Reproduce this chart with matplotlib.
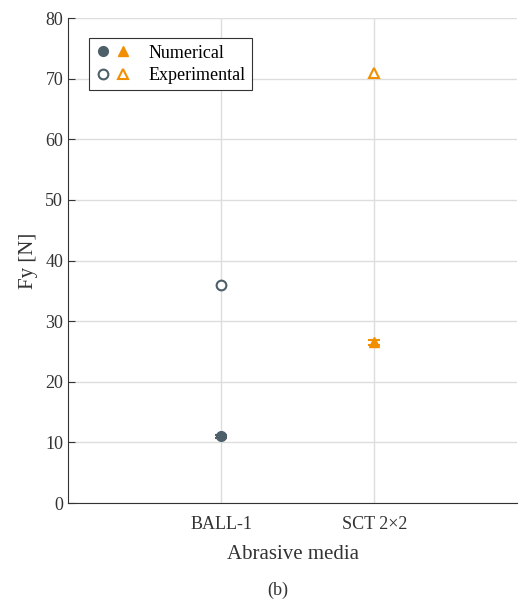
import matplotlib.pyplot as plt
from matplotlib.legend_handler import HandlerTuple

media = ["BALL-1", "SCT 2\u00d72"]
num_ball = 11.0
num_ball_err = 0.3
num_sct = 26.5
num_sct_err = 0.4
exp_ball = 35.9
exp_sct = 70.9

c_ball = "#4d5f69"
c_sct = "#f28f00"

plt.rcParams["font.family"] = ["Liberation Serif", "DejaVu Serif"]

fig = plt.figure(figsize=(5.19, 6.01), dpi=100)
ax = fig.add_axes([0.131, 0.163, 0.866, 0.807])

h1 = ax.errorbar([1], [num_ball], yerr=[num_ball_err], fmt="o", color=c_ball,
                 ms=7, capsize=4, elinewidth=1.2, capthick=1.5, zorder=3)
h2 = ax.errorbar([2], [num_sct], yerr=[num_sct_err], fmt="^", color=c_sct,
                 ms=7, capsize=4, elinewidth=1.2, capthick=1.5, zorder=3)
h3, = ax.plot([1], [exp_ball], "o", mfc="white", mec=c_ball, mew=1.5, ms=7, zorder=3)
h4, = ax.plot([2], [exp_sct], "^", mfc="white", mec=c_sct, mew=1.5, ms=7, zorder=3)

ax.set_xlim(0, 2.935)
ax.set_ylim(0, 80)
ax.set_xticks([1, 2])
ax.set_xticklabels(media)
ax.set_yticks(range(0, 81, 10))
ax.grid(True, color="#dddddd", lw=1)
ax.set_axisbelow(True)
ax.tick_params(direction="in", labelsize=13, colors="#333333", length=5)
ax.tick_params(axis="x", length=0, pad=9)
for s in ["top", "right"]:
    ax.spines[s].set_visible(False)
for s in ["left", "bottom"]:
    ax.spines[s].set_color("#333333")
ax.set_ylabel("Fy [N]", fontsize=15, color="#333333", labelpad=5)
ax.set_xlabel("Abrasive media", fontsize=15, color="#333333", labelpad=9)

h1m, = ax.plot([], [], "o", color=c_ball, ms=7)
h2m, = ax.plot([], [], "^", color=c_sct, ms=7)
leg = ax.legend([(h1m, h2m), (h3, h4)], ["Numerical", "Experimental"],
                handler_map={tuple: HandlerTuple(ndivide=None, pad=0.3)},
                loc="upper left", bbox_to_anchor=(0.026, 0.977), fontsize=13,
                fancybox=False, edgecolor="#333333", framealpha=1,
                handlelength=2.0, handletextpad=0.95, borderpad=0.35,
                labelspacing=0.3)
leg.get_frame().set_linewidth(0.8)

fig.text(0.535, 0.010, "(b)", ha="center", fontsize=13, color="#333333")

fig.savefig("out.png", dpi=100)
